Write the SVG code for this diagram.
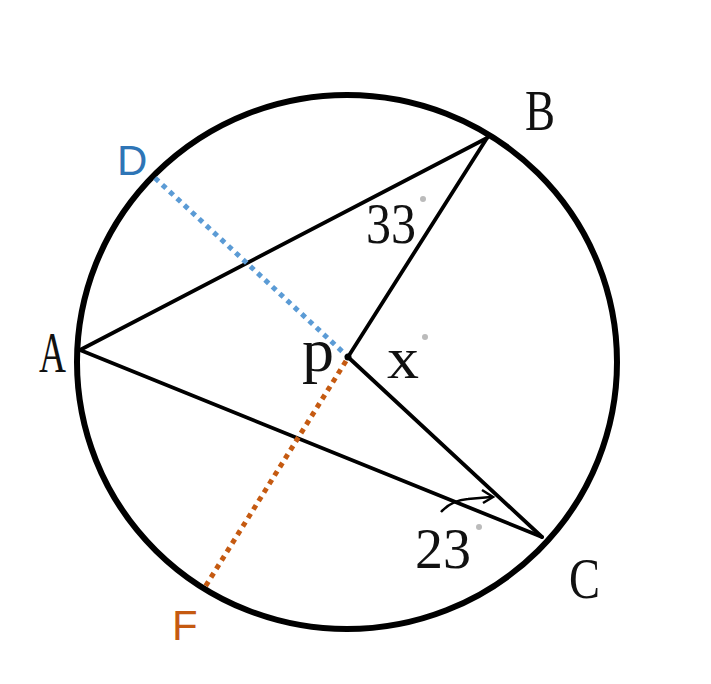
<svg xmlns="http://www.w3.org/2000/svg" width="711" height="684" viewBox="0 0 711 684">
<style>
.ln{stroke:#000;stroke-width:3.8;fill:none;stroke-linecap:round}
.lab{font-family:"Liberation Serif",serif;fill:#111}
.sans{font-family:"Liberation Sans","DejaVu Sans",sans-serif}
.deg{fill:#bbb}
</style>
<rect width="711" height="684" fill="#fff"/>
<g id="circle"><ellipse cx="347" cy="362" rx="270" ry="267" fill="none" stroke="#000" stroke-width="6"/></g>
<g id="connectors">
<line class="ln" x1="80" y1="350" x2="487" y2="138"/>
<line class="ln" x1="80" y1="350" x2="542" y2="537"/>
<line class="ln" x1="348" y1="357" x2="487" y2="138"/>
<line class="ln" x1="348" y1="357" x2="542" y2="537"/>
<line x1="155" y1="178" x2="346" y2="355" stroke="#5B9BD5" stroke-width="5" stroke-dasharray="5 5"/>
<line x1="346" y1="361" x2="205" y2="587" stroke="#C55A11" stroke-width="5" stroke-dasharray="5 5"/>
<path d="M441 512 Q452 500 468 499 L491 497" fill="none" stroke="#000" stroke-width="2.5"/>
<path d="M482 490 L493 497 L483 503" fill="none" stroke="#000" stroke-width="2.5"/>
<circle cx="348" cy="357" r="3.5" fill="#000"/>
</g>
<g id="A"><text class="lab" x="39" y="372" font-size="56" textLength="27" lengthAdjust="spacingAndGlyphs">A</text></g>
<g id="B"><text class="lab" x="525" y="130" font-size="56" textLength="30" lengthAdjust="spacingAndGlyphs">B</text></g>
<g id="C"><text class="lab" x="569" y="598" font-size="56" textLength="31" lengthAdjust="spacingAndGlyphs">C</text></g>
<g id="P"><text class="lab" x="302" y="371" font-size="62" textLength="32" lengthAdjust="spacingAndGlyphs">p</text></g>
<g id="D"><text class="sans" x="117" y="175" font-size="42" fill="#2E75B6">D</text></g>
<g id="F"><text class="sans" x="172" y="640" font-size="42" fill="#C55A11">F</text></g>
<g id="angles">
<text class="lab" x="366" y="243" font-size="56" textLength="50" lengthAdjust="spacingAndGlyphs">33</text>
<circle class="deg" cx="423" cy="199" r="3"/>
<text class="lab" x="387" y="378" font-size="60" textLength="32" lengthAdjust="spacingAndGlyphs">x</text>
<circle class="deg" cx="425" cy="337" r="3"/>
<text class="lab" x="415" y="568" font-size="56" textLength="56" lengthAdjust="spacingAndGlyphs">23</text>
<circle class="deg" cx="479" cy="527" r="3"/>
</g>
</svg>
